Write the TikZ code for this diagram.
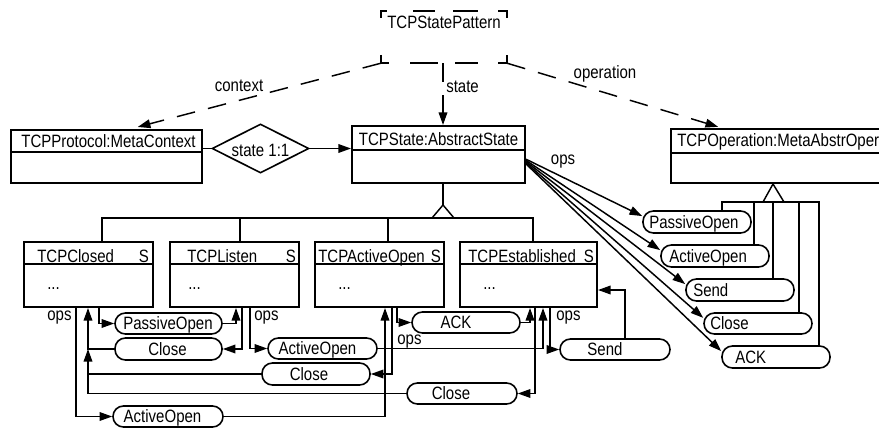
\documentclass[tikz,border=0pt]{standalone}
\usepackage{fontspec}
\setmainfont{Liberation Sans}[FakeStretch=0.84]
\usetikzlibrary{arrows.meta,shapes.geometric,fit,calc}

\begin{document}
\begin{tikzpicture}[x=0.75pt,y=-0.75pt,
  txt/.style={font=\fontsize{13.4}{15}\selectfont, inner sep=0pt, text height=9.6pt, text depth=0pt},
  umlbox/.style={draw, line width=1.5pt, inner sep=0pt},
  divider/.style={line width=1.4pt},
  opbox/.style={draw, line width=1.2pt, inner sep=0pt, rounded corners=7.8pt},
  link/.style={line width=1.1pt},
  arr/.style={link, -{Triangle[length=9.5pt,width=6.5pt]}},
  dlink/.style={arr, dash pattern=on 14pt off 10pt},
]
\useasboundingbox (0,0) rectangle (879,428);
\clip (0,0) rectangle (879,428);

% collaboration TCPStatePattern
\node[inner sep=0pt, fit={(381,11)(507,63)}] (pattern) {};
\node[txt] (patternT) at (444,22.5) {TCPStatePattern};
\draw[link] (381,18) -- (381,11) -- (387,11);
\draw[link] (413,11) -- (435,11);
\draw[link] (453,11) -- (478,11);
\draw[link] (498,11) -- (507,11) -- (507,18);
\draw[link] (381,55) -- (381,63) -- (389,63);
\draw[link] (410,63) -- (438,63);
\draw[link] (455,63) -- (478,63);
\draw[link] (498,63) -- (507,63) -- (507,55);

% meta classes
\node[umlbox, fit={(11,130)(202,183)}] (proto) {};
\draw[divider] (proto.west |- 0,152) -- (proto.east |- 0,152);
\node[txt] (protoT) at (108.5,141.5) {TCPProtocol:MetaContext};

\node[draw, diamond, line width=1.2pt, inner sep=0pt, minimum width=72.75pt, minimum height=36.75pt] (dia) at (260.5,148.5) {};
\node[txt] (diaT) at (260.5,150.5) {state 1:1};

\node[umlbox, fit={(352,126)(525,183)}] (state) {};
\draw[divider] (state.west |- 0,150) -- (state.east |- 0,150);
\node[txt] (stateT) at (438.5,139.5) {TCPState:AbstractState};

\node[umlbox, fit={(671,129)(900,183)}] (oper) {};
\draw[divider] (oper.west |- 0,153) -- (oper.east |- 0,153);
\node[txt, anchor=west] (operT) at (677,140) {TCPOperation:MetaAbstrOper};

% roles of the collaboration
\draw[dlink, shorten >=6pt] (pattern.south west) -- (proto.north -| 130,0);
\draw[dlink] (pattern.south -| 443,0) -- (state.north -| 443,0);
\draw[dlink, shorten >=3pt] (pattern.south east) -- (oper.north -| 722,0);
\node[txt] (ctxL) at (239,84.7) {context};
\node[txt, anchor=west] (stL) at (446,85.7) {state};
\node[txt] (opL) at (605,71.7) {operation};

% association proto -- state
\draw[link] (dia.west -| proto.east) -- (dia.west);
\draw[arr] (dia.east) -- (dia.east -| state.west);

% concrete states
\node[umlbox, fit={(24,242)(153,307)}] (closed) {};
\node[umlbox, fit={(170,242)(299,307)}] (listen) {};
\node[umlbox, fit={(315,242)(444,307)}] (activeopen) {};
\node[umlbox, fit={(460,242)(597,307)}] (established) {};
\foreach \b in {closed,listen,activeopen,established}
  \draw[divider] (\b.west |- 0,264) -- (\b.east |- 0,264);
\node[txt, anchor=west] (closedT) at (37,255.7) {TCPClosed};
\node[txt] (closedS) at (144,255.7) {S};
\node[txt, anchor=west] (closedD) at (47,282.7) {...};
\node[txt, anchor=west] (listenT) at (187,255.7) {TCPListen};
\node[txt] (listenS) at (291,255.7) {S};
\node[txt, anchor=west] (listenD) at (188,282.7) {...};
\node[txt, anchor=west] (activeopenT) at (318,255.7) {TCPActiveOpen};
\node[txt] (activeopenS) at (436,255.7) {S};
\node[txt, anchor=west] (activeopenD) at (338,282.7) {...};
\node[txt, anchor=west] (establishedT) at (468,255.7) {TCPEstablished};
\node[txt] (establishedS) at (589,255.7) {S};
\node[txt, anchor=west] (establishedD) at (483,282.7) {...};

% generalization of the states
\draw[link] (state.south -| 443,0) -- (443,205);
\draw[link] (443,205) -- (432,218) -- (454,218) -- cycle;
\draw[link] (closed.north -| 102,0) -- (102,218) -- (533,218) -- (established.north -| 533,0);
\draw[link] (listen.north -| 240,0) -- (240,218);
\draw[link] (activeopen.north -| 388,0) -- (388,218);

% operations of the concrete states
\node[opbox, fit={(115,313)(222,334)}] (po1) {};
\node[txt] (po1T) at (168,323.5) {PassiveOpen};
\node[opbox, fit={(115,338)(222,360)}] (cl1) {};
\node[txt] (cl1T) at (167.5,349) {Close};
\node[opbox, fit={(113,406)(223,427)}] (ao1) {};
\node[txt] (ao1T) at (162.5,416.5) {ActiveOpen};
\node[opbox, fit={(268,338)(377,359)}] (ao2) {};
\node[txt] (ao2T) at (317.5,348.5) {ActiveOpen};
\node[opbox, fit={(262,363)(370,385)}] (cl2) {};
\node[txt] (cl2T) at (309,374) {Close};
\node[opbox, fit={(412,312)(520,333)}] (ack1) {};
\node[txt] (ack1T) at (456,322.5) {ACK};
\node[opbox, fit={(407,383)(517,404)}] (cl3) {};
\node[txt] (cl3T) at (451,393.5) {Close};
\node[opbox, fit={(560,339)(670,360)}] (send1) {};
\node[txt] (send1T) at (605,349.5) {Send};

\node[txt] (opsC) at (59.5,314) {ops};
\node[txt] (opsL) at (266.5,314) {ops};
\node[txt] (opsA) at (409.5,337.7) {ops};
\node[txt] (opsE) at (568.5,314) {ops};

% transitions
\draw[arr] (closed.south -| 99,0) |- (po1.west);
\draw[arr] (po1.east) -| (listen.south -| 236,0);
\draw[arr] (listen.south -| 242,0) |- (cl1.east);
\draw[arr] (cl1.west) -| (closed.south -| 88,0);
\draw[arr] (cl2.west) -| (cl1.west -| 88,0);
\draw[link] (cl3.west) -| (cl2.west -| 88,0);
\draw[arr] (listen.south -| 250,0) |- (ao2.west);
\draw[arr] (ao2.east) -| (established.south -| 543,0);
\draw[arr] (closed.south -| 76,0) |- (ao1.west);
\draw[arr] (ao1.east) -| (activeopen.south -| 385,0);
\draw[arr] (activeopen.south -| 392,0) |- (cl2.east);
\draw[arr] (activeopen.south -| 397,0) |- (ack1.west);
\draw[arr] (ack1.east) -| (established.south -| 530,0);
\draw[arr] (established.south -| 535,0) |- (cl3.east);
\draw[arr] (established.south -| 550,0) |- (send1.west);
\draw[arr] (send1.north -| 625,0) |- (established.east |- 0,290);

% operation classes
\node[opbox, fit={(643,211)(751,233)}] (rpo) {};
\node[txt, anchor=west] (rpoT) at (649,222) {PassiveOpen};
\node[opbox, fit={(661,245)(769,267)}] (rao) {};
\node[txt, anchor=west] (raoT) at (669,256) {ActiveOpen};
\node[opbox, fit={(686,279)(794,301)}] (rsend) {};
\node[txt, anchor=west] (rsendT) at (693,290) {Send};
\node[opbox, fit={(704,313)(812,334)}] (rcl) {};
\node[txt, anchor=west] (rclT) at (710,323.5) {Close};
\node[opbox, fit={(722,346)(830,368)}] (rack) {};
\node[txt, anchor=west] (rackT) at (735,357) {ACK};

% generalization of the operations
\draw[link] (oper.south -| 773,0) -- (763,202) -- (784,202) -- cycle;
\draw[link] (rpo.north -| 722,0) -- (722,202) -- (819,202) -- (rack.north -| 819,0);
\draw[link] (rao.north -| 754,0) -- (754,202);
\draw[link] (rsend.north -| 773,0) -- (773,202);
\draw[link] (rcl.north -| 799,0) -- (799,202);

% ops of the abstract state
\node[txt] (opsS) at (563,157.7) {ops};
\foreach \t/\f in {rpo/0.58, rao/0.6, rsend/0.62, rcl/0.64, rack/0.66}
  \draw[arr] ($(state.north east)!\f!(state.south east)$) -- ($(\t.north west)!0.25!(\t.south west)$);
\end{tikzpicture}
\end{document}
